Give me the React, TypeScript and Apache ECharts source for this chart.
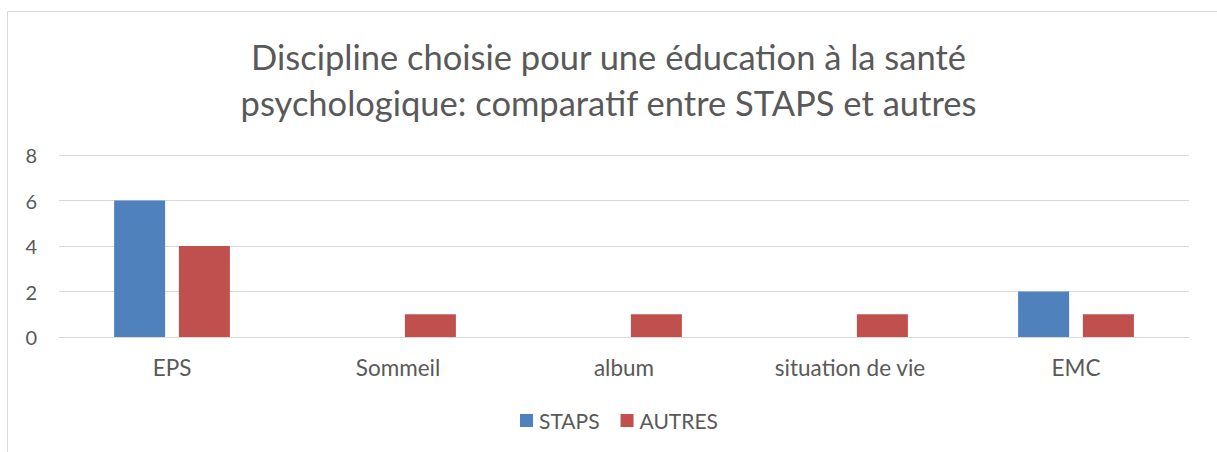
import React, { useEffect, useRef } from "react";
import * as echarts from "echarts";

const categories = ["EPS", "Sommeil", "album", "situation de vie", "EMC"];
const stapsValues = [6, 0, 0, 0, 2];
const autresValues = [4, 1, 1, 1, 1];
const yTicks = [0, 2, 4, 6, 8];
const titleLines = [
  "Discipline choisie pour une éducation à la santé",
  "psychologique: comparatif entre STAPS et autres",
];

export default function App() {
  const ref = useRef<HTMLDivElement>(null);
  useEffect(() => {
    document.body.style.margin = "0";
    const chart = echarts.init(ref.current!, null, { renderer: "svg" });
    const font = "Lato, 'Open Sans', sans-serif";
    chart.setOption({
      animation: false,
      backgroundColor: "#ffffff",
      textStyle: { fontFamily: font },
      graphic: [
        {
          type: "rect",
          shape: { x: 7.5, y: 11.5, width: 1400, height: 600 },
          style: { fill: "none", stroke: "#d9d9d9", lineWidth: 1 },
          silent: true,
        },
      ],
      title: {
        text: titleLines.join("\n"),
        left: "center",
        top: 28,
        textStyle: {
          fontFamily: font,
          fontSize: 34.5,
          fontWeight: "normal",
          color: "#595959",
          lineHeight: 46,
        },
      },
      legend: {
        bottom: 16,
        left: 515,
        itemWidth: 13,
        itemHeight: 13,
        itemGap: 21,
        icon: "rect",
        textStyle: { fontFamily: font, fontSize: 21, color: "#595959", padding: [0, 0, 0, 1] },
        data: ["STAPS", "AUTRES"],
      },
      grid: { left: 59, right: 28, top: 155, bottom: 115 },
      xAxis: {
        type: "category",
        data: categories,
        axisTick: { show: false },
        axisLine: { show: true, lineStyle: { color: "#d9d9d9", width: 1 } },
        axisLabel: { fontFamily: font, fontSize: 22.5, color: "#595959", margin: 19 },
      },
      yAxis: {
        type: "value",
        min: yTicks[0],
        max: yTicks[yTicks.length - 1],
        interval: 2,
        axisLine: { show: false },
        axisTick: { show: false },
        splitLine: { lineStyle: { color: "#d9d9d9", width: 1 } },
        axisLabel: { fontFamily: font, fontSize: 20, color: "#595959", margin: 22 },
      },
      series: [
        {
          name: "STAPS",
          type: "bar",
          data: stapsValues,
          barWidth: 51,
          barGap: "27%",
          itemStyle: { color: "#4f81bd" },
        },
        {
          name: "AUTRES",
          type: "bar",
          data: autresValues,
          barWidth: 51,
          barGap: "27%",
          itemStyle: { color: "#c0504d" },
        },
      ],
    });
    return () => chart.dispose();
  }, []);
  return <div ref={ref} style={{ width: 1217, height: 452 }} />;
}
